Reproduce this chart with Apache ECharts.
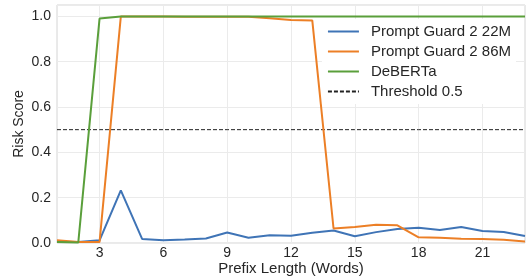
<!DOCTYPE html>
<html>
<head>
<meta charset="utf-8">
<script src="https://cdn.jsdelivr.net/npm/echarts@6/dist/echarts.min.js"></script>
<style>
  html, body { margin: 0; padding: 0; background: #fff; }
  #main { width: 532px; height: 279px; }
</style>
</head>
<body>
<div id="main"></div>
<script>
var prefixLengths = ['1','2','3','4','5','6','7','8','9','10','11','12','13','14','15','16','17','18','19','20','21','22','23'];

var guard22m = [0.006, 0.004, 0.012, 0.232, 0.018, 0.012, 0.015, 0.02, 0.046, 0.023, 0.034, 0.032, 0.045, 0.055, 0.03, 0.048, 0.062, 0.067, 0.057, 0.071, 0.053, 0.049, 0.031];
var guard86m = [0.012, 0.004, 0.004, 0.999, 0.999, 0.999, 0.998, 0.998, 0.998, 0.998, 0.992, 0.984, 0.982, 0.064, 0.071, 0.081, 0.078, 0.025, 0.023, 0.019, 0.018, 0.014, 0.007];
var deberta = [0.004, 0.002, 0.99, 0.999, 0.999, 0.999, 0.999, 0.999, 0.999, 0.999, 0.999, 0.999, 0.999, 0.999, 0.999, 0.999, 0.999, 0.999, 0.999, 0.999, 0.999, 0.999, 0.999];
var threshold = 0.5;

var font = "'Liberation Sans', Arial, sans-serif";
var every3 = function (i, v) { return Number(v) % 3 === 0; };

var myChart = echarts.init(document.getElementById('main'));

var option = {
    animation: false,
    backgroundColor: '#fff',
    textStyle: { fontFamily: font },
    grid: {
        left: 57,
        right: 7,
        top: 5,
        bottom: 36,
        outerBoundsMode: 'none',
        show: true,
        borderColor: '#d4d4d4',
        borderWidth: 1
    },
    legend: {
        orient: 'vertical',
        right: 16,
        top: 19,
        padding: 5,
        itemWidth: 31,
        itemHeight: 14,
        itemGap: 5,
        backgroundColor: '#fff',
        itemStyle: { opacity: 0 },
        textStyle: { fontFamily: font, fontSize: 15, color: '#262626', padding: [0, 0, 0, 7] },
        data: ['Prompt Guard 2 22M', 'Prompt Guard 2 86M', 'DeBERTa', 'Threshold 0.5']
    },
    xAxis: {
        type: 'category',
        data: prefixLengths,
        boundaryGap: false,
        name: 'Prefix Length (Words)',
        nameLocation: 'middle',
        nameGap: 18,
        nameMoveOverlap: false,
        nameTextStyle: { fontFamily: font, fontSize: 15, color: '#262626' },
        axisLine: { show: false },
        axisTick: { show: false },
        axisLabel: {
            interval: every3,
            fontFamily: font,
            fontSize: 14,
            color: '#262626',
            margin: 3
        },
        splitLine: {
            show: true,
            interval: every3,
            lineStyle: { color: '#ebebeb', width: 1 }
        }
    },
    yAxis: {
        type: 'value',
        min: 0,
        max: 1.05,
        interval: 0.2,
        name: 'Risk Score',
        nameLocation: 'middle',
        nameGap: 31,
        nameMoveOverlap: false,
        nameTextStyle: { fontFamily: font, fontSize: 14, color: '#262626' },
        axisLine: { show: false },
        axisTick: { show: false },
        axisLabel: {
            fontFamily: font,
            fontSize: 14,
            color: '#262626',
            margin: 6,
            formatter: function (v) { return v > 1.001 ? '' : v.toFixed(1); }
        },
        splitLine: { lineStyle: { color: '#ebebeb', width: 1 } }
    },
    series: [{
        name: 'Prompt Guard 2 22M',
        type: 'line',
        data: guard22m,
        symbol: 'none',
        color: '#3f74b6',
        lineStyle: { width: 2 }
    }, {
        name: 'Prompt Guard 2 86M',
        type: 'line',
        data: guard86m,
        symbol: 'none',
        color: '#ec7f26',
        lineStyle: { width: 2 }
    }, {
        name: 'DeBERTa',
        type: 'line',
        data: deberta,
        symbol: 'none',
        color: '#5a9f3b',
        lineStyle: { width: 2 }
    }, {
        name: 'Threshold 0.5',
        type: 'line',
        data: prefixLengths.map(function () { return threshold; }),
        symbol: 'none',
        color: '#222',
        lineStyle: { width: 1, type: [4, 2] },
        z: 1
    }]
};

myChart.setOption(option);
</script>
</body>
</html>
